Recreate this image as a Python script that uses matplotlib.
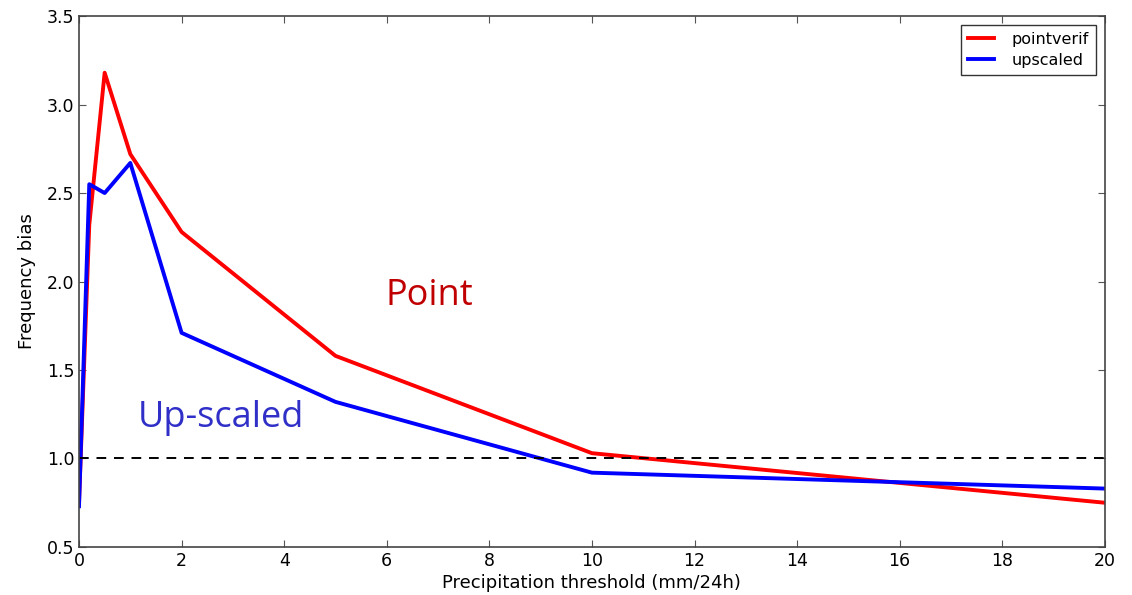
import matplotlib
matplotlib.use("Agg")
import matplotlib.pyplot as plt

thresholds = [0, 0.2, 0.5, 1, 2, 5, 10, 20]
pointverif = [0.75, 2.32, 3.18, 2.72, 2.28, 1.58, 1.03, 0.75]
upscaled = [0.73, 2.55, 2.50, 2.67, 1.71, 1.32, 0.92, 0.83]
xticks = [0, 2, 4, 6, 8, 10, 12, 14, 16, 18, 20]
yticks = [0.5, 1.0, 1.5, 2.0, 2.5, 3.0, 3.5]

plt.rcParams['font.family'] = ['DejaVu Sans']
fig = plt.figure(figsize=(11.32, 5.95), dpi=100)
ax = fig.add_axes([0.0698, 0.0807, 0.9062, 0.8923])

ax.plot(thresholds, pointverif, color='#ff0000', lw=2.8, label='pointverif')
ax.plot(thresholds, upscaled, color='#0000ff', lw=2.8, label='upscaled')
ax.axhline(1.0, color='black', ls='--', lw=1.4, dashes=(5, 4))

ax.set_xlim(0, 20)
ax.set_ylim(0.5, 3.5)
ax.set_xticks(xticks)
ax.set_yticks(yticks)
ax.set_yticklabels([f"{v:.1f}" for v in yticks])
ax.tick_params(direction='in', top=True, right=True, labelsize=12.5, length=5, color='#555555')
for s in ax.spines.values():
    s.set_color('#444444')
    s.set_linewidth(1.2)

ax.set_xlabel('Precipitation threshold (mm/24h)', fontsize=13, labelpad=3)
ax.set_ylabel('Frequency bias', fontsize=13, labelpad=8)

leg = ax.legend(loc='upper right', fontsize=11.5, frameon=True, fancybox=False,
                borderaxespad=0.55, handlelength=1.6, handletextpad=1.1,
                borderpad=0.45, labelspacing=0.35)
leg.get_frame().set_edgecolor('black')
leg.get_frame().set_linewidth(1.0)

ax.text(6.84, 1.92, 'Point', color='#c00000', fontsize=26, family='Open Sans',
        ha='center', va='center')
ax.text(2.77, 1.23, 'Up-scaled', color='#3030c8', fontsize=26, family='Open Sans',
        ha='center', va='center')

fig.savefig('out.png', dpi=100)
